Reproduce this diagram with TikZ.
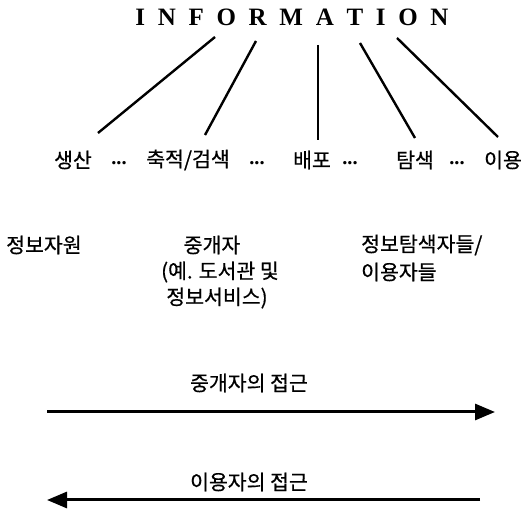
\documentclass[tikz,border=0pt]{standalone}
\usepackage{fontspec}
\setmainfont{Noto Sans CJK KR}[FakeBold=0.6]
\newfontfamily\titlefont{Liberation Serif}
\usetikzlibrary{arrows.meta}
\newcommand\ltrgap{\hspace{12.7pt}}
\newcommand\dts{{\titlefont\bfseries ...}}
\begin{document}
\begin{tikzpicture}[x=1pt,y=-1pt,
  kor/.style={inner sep=0pt, font=\fontsize{20.5}{24}\selectfont},
  fanline/.style={line width=2.4pt},
  bigarrow/.style={line width=3pt, -{Triangle[length=20pt,width=16pt]}}]
\useasboundingbox (0,0) rectangle (528,510);
% title
\node[inner sep=0pt, font=\titlefont\bfseries\fontsize{25}{28}\selectfont] (info) at (292,17)
  {I\ltrgap N\ltrgap F\ltrgap O\ltrgap R\ltrgap M\ltrgap A\ltrgap T\ltrgap I\ltrgap O\ltrgap N};
% activity row
\node[kor] (prod) at (73,160) {생산};
\node[kor] (d1) at (119,163) {\dts};
\node[kor] (stor) at (188,160) {축적/검색};
\node[kor] (d2) at (257,163) {\dts};
\node[kor] (dist) at (312,160) {배포};
\node[kor] (d3) at (350,163) {\dts};
\node[kor] (srch) at (415,160) {탐색};
\node[kor] (d4) at (457,163) {\dts};
\node[kor] (use) at (503,160) {이용};
% fan lines
\coordinate (t1) at (215,37);  \coordinate (b1) at (98,133);
\coordinate (t2) at (256,41);  \coordinate (b2) at (205,135);
\coordinate (t3) at (318,45);  \coordinate (b3) at (318,140);
\coordinate (t4) at (360,43);  \coordinate (b4) at (415,138);
\coordinate (t5) at (397,38);  \coordinate (b5) at (498,137);
\draw[fanline] (t1) -- (b1);
\draw[fanline] (t2) -- (b2);
\draw[fanline] (t3) -- (b3);
\draw[fanline] (t4) -- (b4);
\draw[fanline] (t5) -- (b5);
% actors
\node[kor, anchor=west] (src) at (6,245) {정보자원};
\node[kor] (med1) at (212,245) {중개자};
\node[kor] (med2) at (220,272) {(예. 도서관 및};
\node[kor] (med3) at (217,298) {정보서비스)};
\node[kor, anchor=west] (usr1) at (361,245) {정보탐색자들/};
\node[kor, anchor=west] (usr2) at (361,272) {이용자들};
% arrows
\node[kor] (lab1) at (249,383) {중개자의 접근};
\coordinate (a1s) at (47,412); \coordinate (a1e) at (495,412);
\draw[bigarrow] (a1s) -- (a1e);
\node[kor] (lab2) at (249,482) {이용자의 접근};
\coordinate (a2s) at (480,500); \coordinate (a2e) at (47,500);
\draw[bigarrow] (a2s) -- (a2e);
\end{tikzpicture}
\end{document}
